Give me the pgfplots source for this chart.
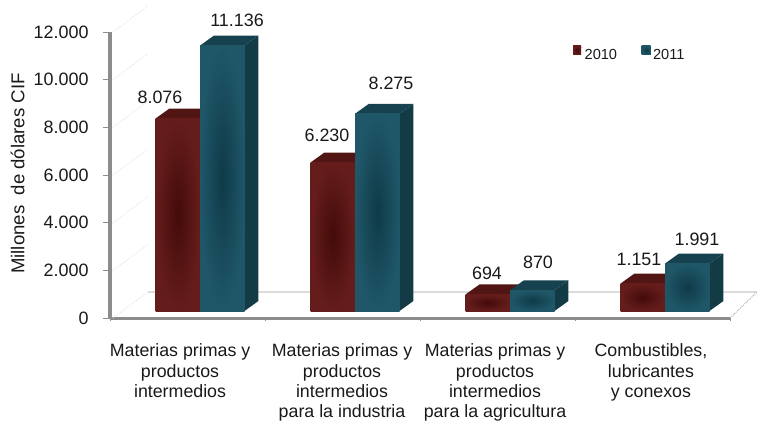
\documentclass[border=0pt]{standalone}
\usepackage{fontspec}
\setmainfont{Liberation Sans}
\usepackage{pgfplots}
\pgfplotsset{compat=1.18}
\definecolor{redf}{HTML}{651D1B}
\definecolor{redc}{HTML}{430B0A}
\definecolor{redt}{HTML}{511514}
\definecolor{tealf}{HTML}{1F5768}
\definecolor{tealc}{HTML}{0F3A48}
\definecolor{teals}{HTML}{133B46}
\definecolor{tealt}{HTML}{16424F}
\definecolor{axgray}{HTML}{8C8C8C}
\newcommand\lab[3]{\node[font=\fontsize{17.9}{20}\selectfont,text=black!90] at (#1,{421-#2}) {#3};}
\tikzset{sh/.style={xshift=12.5pt,yshift=7pt},
  wall/.style={color=black!11, densely dotted, line width=0.8pt},
  redbar/.style={ybar, bar width=44.5pt, bar shift=-22.25pt, sh, draw=none, fill=redf,
   inner color=redc, outer color=redf},
  tealbar/.style={ybar, bar width=44.5pt, bar shift=22.25pt, sh, draw=none, fill=tealf,
   inner color=tealc, outer color=tealf}}
\pgfplotsset{
  redsq/.style={legend image code/.code={\fill[redf!70!redc] (0pt,-7pt) rectangle (8pt,2pt);\path (0pt,0pt) -- (10pt,0pt);}},
  tealsq/.style={legend image code/.code={\fill[tealf!70!tealc] (0pt,-7pt) rectangle (9pt,2pt);\path (0pt,0pt) -- (10pt,0pt);}}}
\begin{document}
\begin{tikzpicture}[x=1pt,y=1pt]
\useasboundingbox (0,0) rectangle (757,421);
\begin{axis}[
  at={(110pt,103pt)}, anchor=south west,
  scale only axis, width=620pt, height=286pt,
  xmin=0, xmax=4, ymin=0, ymax=12000,
  clip=false,
  axis x line*=bottom, axis y line*=left,
  x axis line style={-, line width=3pt, color=axgray},
  y axis line style={-, line width=4.5pt, color=axgray},
  tick align=outside,
  ytick={0,2000,...,12000},
  xtick={0.452,1.497,2.484,3.490},
  xticklabels={{Materias primas y\\productos\\intermedios},
               {Materias primas y\\productos\\intermedios\\para la industria},
               {Materias primas y\\productos\\intermedios\\para la agricultura},
               {Combustibles,\\lubricantes\\y conexos}},
  minor xtick={0,1,2,3,4},
  major tick length=7pt, minor tick length=3pt,
  x tick style={draw=none},
  y tick style={color=axgray, line width=0.6pt},
  minor x tick style={draw=axgray, line width=0.6pt},
  xticklabel style={align=center, anchor=north, yshift=-15.5pt,
     font=\fontsize{17.8}{20.1}\selectfont, text=black!90},
  yticklabel style={font=\fontsize{17.9}{20}\selectfont, text=black!90, xshift=-11pt,
     /pgf/number format/assume math mode=true},
  scaled y ticks=false,
  /pgf/number format/.cd, 1000 sep={.},
  /pgfplots/.cd,
  ylabel={Millones\ \ de dólares CIF},
  ylabel style={at={(axis description cs:-0.149,0.505)}, anchor=center,
     font=\fontsize{18.6}{20}\selectfont, text=black!90},
  legend style={draw=none, fill=none, at={(axis description cs:0.747,0.923)}, anchor=west,
     font=\fontsize{14.6}{16}\selectfont, text=black!90, /tikz/every even column/.append style={column sep=23pt},
     inner sep=0pt, outer sep=0pt, nodes={inner sep=1.5pt}},
  legend cell align=left,
  legend columns=2,
]
% back floor and faint wall lines
\draw[color=black!14, line width=2.4pt] (axis cs:0.245,1091) -- (axis cs:4.174,1091);
\draw[color=black!30, densely dotted, line width=1pt] (axis cs:4,0) -- (axis cs:4.174,1091);
\draw[wall] (axis cs:0.02,0) -- (axis cs:0.245,1091);
\draw[wall] (axis cs:0.02,2000) -- (axis cs:0.245,3091);
\draw[wall] (axis cs:0.02,4000) -- (axis cs:0.245,5091);
\draw[wall] (axis cs:0.02,6000) -- (axis cs:0.245,7091);
\draw[wall] (axis cs:0.02,8000) -- (axis cs:0.245,9091);
\draw[wall] (axis cs:0.02,10000) -- (axis cs:0.245,11091);
\draw[wall] (axis cs:0.02,12000) -- (axis cs:0.245,13091);

% 3D faces of the bars
\addplot[sh, forget plot, fill=redt, draw=none] coordinates {(0.213,8076) (0.303,8496) (0.590,8496) (0.5,8076)} --cycle;
\addplot[sh, forget plot, fill=redt, draw=none] coordinates {(1.213,6230) (1.303,6650) (1.590,6650) (1.5,6230)} --cycle;
\addplot[sh, forget plot, fill=redt, draw=none] coordinates {(2.213,694) (2.303,1114) (2.590,1114) (2.5,694)} --cycle;
\addplot[sh, forget plot, fill=redt, draw=none] coordinates {(3.213,1151) (3.303,1571) (3.590,1571) (3.5,1151)} --cycle;
\addplot[sh, forget plot, fill=teals, draw=none] coordinates {(0.787,0) (0.877,420) (0.877,11556) (0.787,11136)} --cycle;
\addplot[sh, forget plot, fill=teals, draw=none] coordinates {(1.787,0) (1.877,420) (1.877,8695) (1.787,8275)} --cycle;
\addplot[sh, forget plot, fill=teals, draw=none] coordinates {(2.787,0) (2.877,420) (2.877,1290) (2.787,870)} --cycle;
\addplot[sh, forget plot, fill=teals, draw=none] coordinates {(3.787,0) (3.877,420) (3.877,2411) (3.787,1991)} --cycle;
\addplot[sh, forget plot, fill=tealt, draw=none] coordinates {(0.5,11136) (0.59,11556) (0.877,11556) (0.787,11136)} --cycle;
\addplot[sh, forget plot, fill=tealt, draw=none] coordinates {(1.5,8275) (1.59,8695) (1.877,8695) (1.787,8275)} --cycle;
\addplot[sh, forget plot, fill=tealt, draw=none] coordinates {(2.5,870) (2.59,1290) (2.877,1290) (2.787,870)} --cycle;
\addplot[sh, forget plot, fill=tealt, draw=none] coordinates {(3.5,1991) (3.59,2411) (3.877,2411) (3.787,1991)} --cycle;

% front faces: one plot per bar, so that each bar has its own shading
\addplot[redbar, redsq] coordinates {(0.5,8076)};
\addlegendentry{2010}
\addplot[tealbar, tealsq] coordinates {(0.5,11136)};
\addlegendentry{2011}
\addplot[redbar, forget plot] coordinates {(1.5,6230)};
\addplot[redbar, forget plot] coordinates {(2.5,694)};
\addplot[redbar, forget plot] coordinates {(3.5,1151)};
\addplot[tealbar, forget plot] coordinates {(1.5,8275)};
\addplot[tealbar, forget plot] coordinates {(2.5,870)};
\addplot[tealbar, forget plot] coordinates {(3.5,1991)};
\end{axis}
\lab{160}{97}{8.076}
\lab{237}{20}{11.136}
\lab{327}{135}{6.230}
\lab{391}{83}{8.275}
\lab{487}{273}{694}
\lab{538}{262}{870}
\lab{639}{259}{1.151}
\lab{697}{239}{1.991}
\end{tikzpicture}
\end{document}
